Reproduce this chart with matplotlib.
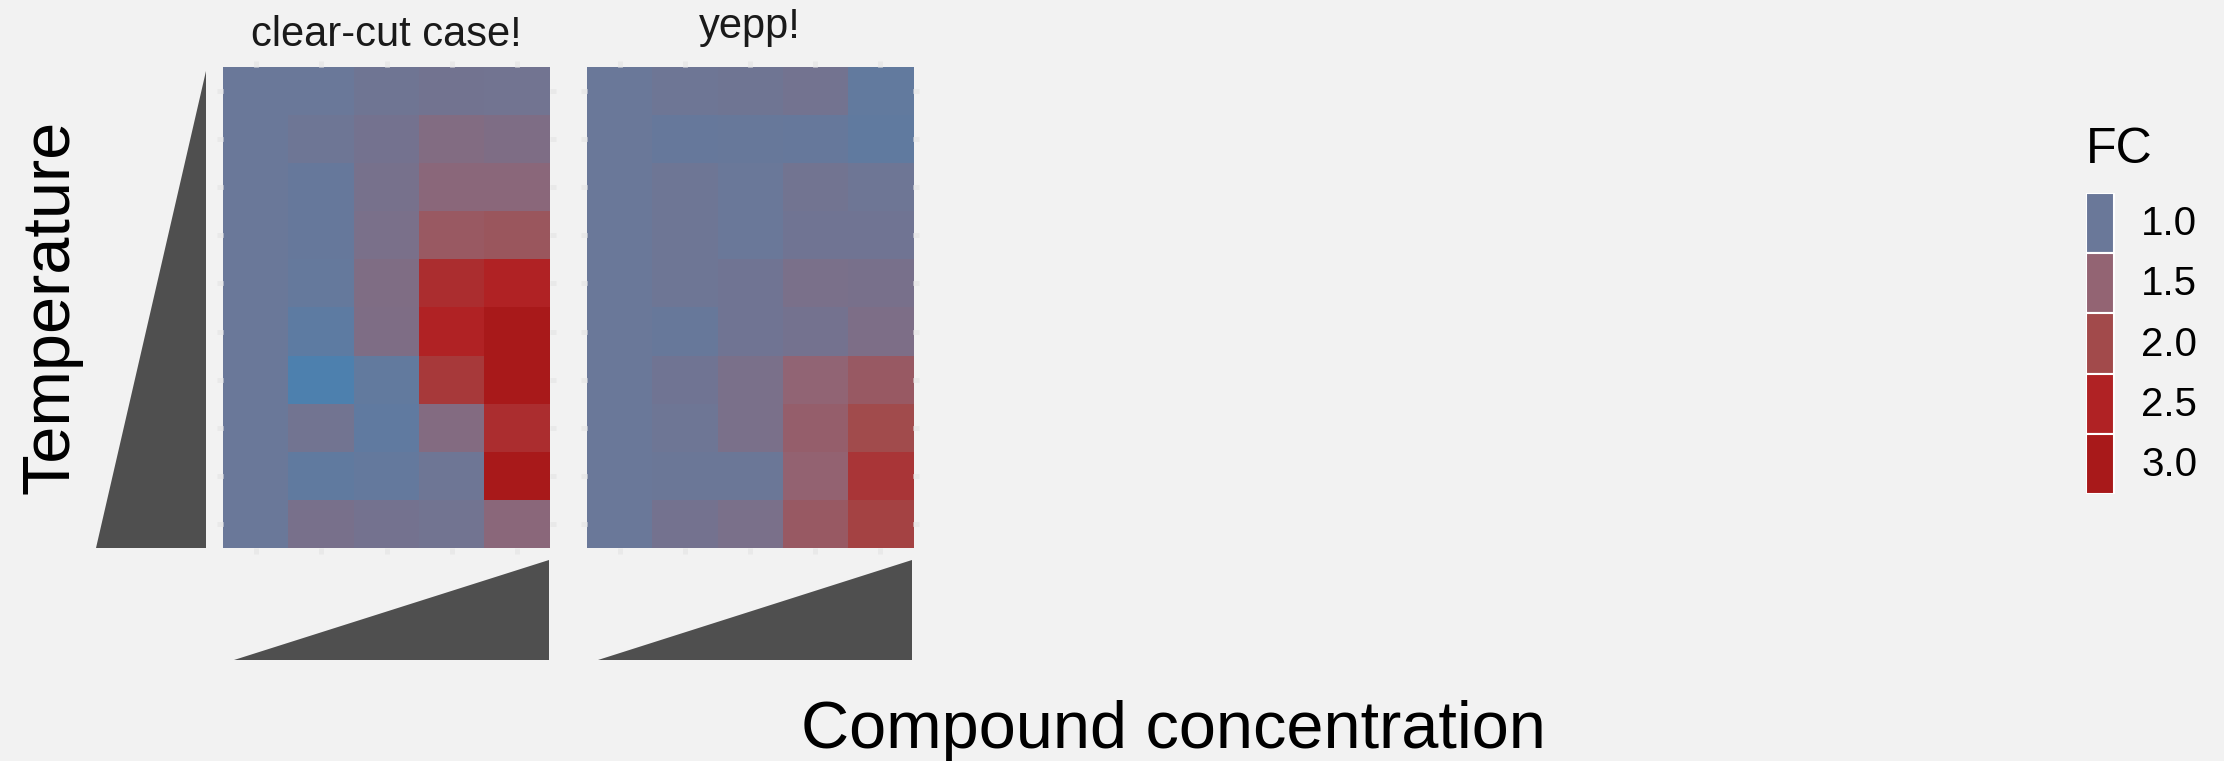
import numpy as np
import matplotlib.pyplot as plt
from matplotlib.colors import LinearSegmentedColormap, Normalize
from matplotlib.patches import Polygon, Rectangle

plt.rcParams['font.family'] = ['Liberation Sans', 'DejaVu Sans']

W, H = 2224, 761
BG = '#f2f2f2'

# colour scale for FC
fc_values = [0.5, 1.0, 1.5, 2.0, 2.5, 3.0]
fc_colors = ['#4682b4', '#6a7899', '#936473', '#a24a4b', '#b02224', '#a8191a']
legend_breaks = [1.0, 1.5, 2.0, 2.5, 3.0]

panel_titles = ['clear-cut case!', 'yepp!']

# rows: top (high temperature) -> bottom, cols: low -> high concentration
fc_clear = [
    [1.00, 1.00, 1.07, 1.11, 1.10],
    [1.00, 1.05, 1.13, 1.30, 1.26],
    [1.00, 0.95, 1.17, 1.40, 1.40],
    [1.00, 0.95, 1.20, 1.71, 1.76],
    [1.00, 0.93, 1.27, 2.35, 2.50],
    [1.00, 0.83, 1.26, 2.50, 2.95],
    [1.00, 0.60, 0.90, 2.20, 2.95],
    [1.00, 1.10, 0.87, 1.32, 2.35],
    [1.00, 0.88, 0.92, 1.05, 2.95],
    [1.00, 1.18, 1.13, 1.10, 1.40],
]
fc_yepp = [
    [1.00, 1.05, 1.07, 1.12, 0.90],
    [1.00, 0.95, 0.97, 0.95, 0.88],
    [1.00, 1.05, 1.00, 1.10, 1.05],
    [1.00, 1.05, 1.00, 1.08, 1.08],
    [1.00, 1.05, 1.08, 1.20, 1.18],
    [1.00, 0.97, 1.08, 1.13, 1.24],
    [1.00, 1.08, 1.20, 1.48, 1.70],
    [1.00, 1.05, 1.20, 1.60, 1.98],
    [1.00, 1.02, 1.02, 1.52, 2.25],
    [1.00, 1.13, 1.20, 1.70, 2.10],
]

vmin, vmax = fc_values[0], fc_values[-1]
cmap = LinearSegmentedColormap.from_list(
    'fc', [((v - vmin) / (vmax - vmin), c) for v, c in zip(fc_values, fc_colors)])
norm = Normalize(vmin, vmax)

fig = plt.figure(figsize=(W / 100, H / 100), dpi=100, facecolor=BG)


def add_ax(x0, y0, x1, y1):
    # pixel box -> figure fraction
    ax = fig.add_axes([x0 / W, 1 - y1 / H, (x1 - x0) / W, (y1 - y0) / H])
    ax.set_facecolor(BG)
    for s in ax.spines.values():
        s.set_visible(False)
    return ax


def ramp(ax, pts):
    ax.add_patch(Polygon(pts, closed=True, color='#4f4f4f', lw=0))
    ax.set_xlim(0, 1); ax.set_ylim(0, 1)
    ax.set_axis_off()


panels = [(223, 550, fc_clear, 46), (587, 913, fc_yepp, 38)]
for (x0, x1, data, base), title in zip(panels, panel_titles):
    ax = add_ax(x0, 67, x1, 548)
    z = np.array(data)
    ax.imshow(z, cmap=cmap, norm=norm, aspect='auto', interpolation='nearest',
              extent=(-0.5, 4.5, 9.5, -0.5))
    ax.set_xlim(-0.5, 4.5); ax.set_ylim(9.5, -0.5)
    ax.set_xticks(range(5)); ax.set_yticks(range(10))
    ax.tick_params(direction='out', length=4.5, width=3.5, color='#e9e9e9',
                   top=True, right=True, labelleft=False, labelbottom=False)
    fig.text((x0 + x1) / 2 / W, 1 - base / H, title, ha='center', va='baseline',
             fontsize=30, color='#1a1a1a')
    # concentration ramp under each panel
    ramp(add_ax(x0 + 11, 560, x1 - 1, 660), [(0, 0), (1, 0), (1, 1)])

# temperature ramp on the left
ramp(add_ax(96, 71, 206, 548), [(0, 0), (1, 0), (1, 1)])

fig.text(83 / W, 1 - 307 / H, 'Temperature', rotation=90, ha='right', va='center',
         fontsize=48, color='black')
fig.text(1173 / W, 1 - 748 / H, 'Compound concentration', ha='center', va='baseline',
         fontsize=48, color='black')

# legend
fig.text(2086 / W, 1 - 163 / H, 'FC', ha='left', va='baseline', fontsize=36)
lax = add_ax(2086, 193, 2210, 494)
lax.set_xlim(0, 124); lax.set_ylim(len(legend_breaks) * 60, 0)
lax.set_axis_off()
for i, b in enumerate(legend_breaks):
    lax.add_patch(Rectangle((0, i * 60), 28, 60, facecolor=cmap(norm(b)),
                            edgecolor='white', lw=1.5))
    lax.text(55, i * 60 + 31, f'{b:.1f}', ha='left', va='center', fontsize=29)

fig.savefig('out.png', dpi=100, facecolor=BG)
